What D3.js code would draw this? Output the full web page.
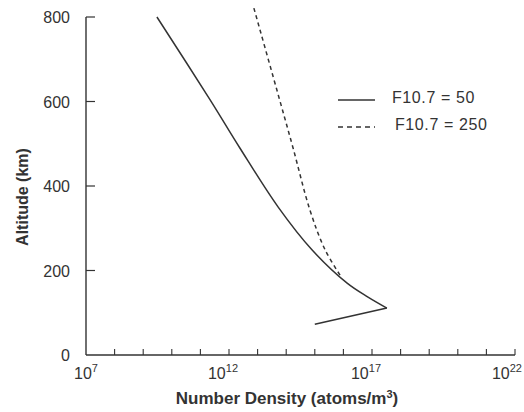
<!DOCTYPE html>
<html lang="en">
<head>
<meta charset="UTF-8">
<script src="https://d3js.org/d3.v7.min.js"></script>
<style>
    body { margin: 0; background: #fff; font-family: "Liberation Sans", Arial, sans-serif; }
    .tick-label { font-size: 16px; fill: #333; }
    .axis-title { font-size: 16px; font-weight: bold; fill: #333; }
    .legend-text { font-size: 16px; fill: #333; letter-spacing: 0.6px; }
</style>
</head>
<body>
<svg id="chart" width="524" height="412"></svg>
<script>
// altitude (km) and log10 number density (atoms/m^3)
const solidAlt = [800, 604, 490, 350, 249, 170, 137, 111, 73];
const solidLog = [9.48, 11.34, 12.38, 13.72, 14.9, 16.13, 16.86, 17.52, 15.0];
const dashAlt = [821, 592, 490, 343, 249, 182];
const dashLog = [12.87, 13.82, 14.24, 14.83, 15.36, 15.95];
const yTicks = [0, 200, 400, 600, 800];
const xLabelExps = [7, 12, 17, 22];
const seriesNames = ["F10.7 = 50", "F10.7 = 250"];

const svg = d3.select("#chart");
const x = d3.scaleLinear().domain([7, 22]).range([86, 515]);
const y = d3.scaleLinear().domain([0, 800]).range([355, 17]);
const ink = "#333";

// axes lines
svg.append("line").attr("x1", x(7)).attr("x2", x(7)).attr("y1", y(0)).attr("y2", y(800))
    .attr("stroke", ink).attr("stroke-width", 1.4);
svg.append("line").attr("x1", x(7)).attr("x2", x(22)).attr("y1", y(0)).attr("y2", y(0))
    .attr("stroke", ink).attr("stroke-width", 1.4);

// y ticks (inward) and labels
svg.selectAll(".ytick").data(yTicks.filter(d => d > 0)).enter().append("line")
    .attr("x1", x(7)).attr("x2", x(7) + 9)
    .attr("y1", d => y(d)).attr("y2", d => y(d))
    .attr("stroke", ink).attr("stroke-width", 1.2);
svg.selectAll(".ylab").data(yTicks).enter().append("text")
    .attr("class", "tick-label")
    .attr("x", 70).attr("y", d => y(d) + 6)
    .attr("text-anchor", "end")
    .text(d => d);

// x ticks every decade, pointing up
svg.selectAll(".xtick").data(d3.range(8, 23)).enter().append("line")
    .attr("x1", d => x(d)).attr("x2", d => x(d))
    .attr("y1", y(0)).attr("y2", y(0) - 6)
    .attr("stroke", ink).attr("stroke-width", 1.1);

const xl = svg.selectAll(".xlab").data(xLabelExps).enter().append("text")
    .attr("class", "tick-label")
    .attr("x", d => d === 22 ? 522 : x(d) - (d >= 10 ? 6 : 0))
    .attr("y", 379)
    .attr("text-anchor", d => d === 22 ? "end" : "middle");
xl.append("tspan").text("10");
xl.append("tspan").attr("dy", -7).style("font-size", "11px").text(d => d);

// axis titles
const xt = svg.append("text").attr("class", "axis-title")
    .attr("x", 287).attr("y", 404).attr("text-anchor", "middle")
    .style("font-size", "17px");
xt.append("tspan").text("Number Density (atoms/m");
xt.append("tspan").attr("dy", -6).style("font-size", "11px").text("3");
xt.append("tspan").attr("dy", 6).text(")");

svg.append("text").attr("class", "axis-title")
    .attr("transform", `translate(28,197) rotate(-90)`)
    .attr("text-anchor", "middle")
    .text("Altitude (km)");

// curves
const line = d3.line().x(d => x(d[1])).y(d => y(d[0]));
const solidPts = solidAlt.map((a, i) => [a, solidLog[i]]);
const dashPts = dashAlt.map((a, i) => [a, dashLog[i]]);

svg.append("path").attr("d", line.curve(d3.curveCatmullRom)(solidPts.slice(0, 8)))
    .attr("fill", "none").attr("stroke", ink).attr("stroke-width", 1.5);
svg.append("path").attr("d", line.curve(d3.curveLinear)(solidPts.slice(7)))
    .attr("fill", "none").attr("stroke", ink).attr("stroke-width", 1.5);
svg.append("path").attr("d", line.curve(d3.curveCatmullRom)(dashPts))
    .attr("fill", "none").attr("stroke", ink).attr("stroke-width", 1.5)
    .attr("stroke-dasharray", "4,3.5");

// legend
const legend = svg.append("g");
seriesNames.forEach((name, i) => {
    const ly = 100 + i * 27;
    legend.append("line").attr("x1", 338).attr("x2", 375).attr("y1", ly).attr("y2", ly)
        .attr("stroke", ink).attr("stroke-width", 1.5)
        .attr("stroke-dasharray", i === 1 ? "5,4" : null);
    legend.append("text").attr("class", "legend-text")
        .attr("x", i === 0 ? 392 : 395).attr("y", ly + 3).text(name);
});
</script>
</body>
</html>
